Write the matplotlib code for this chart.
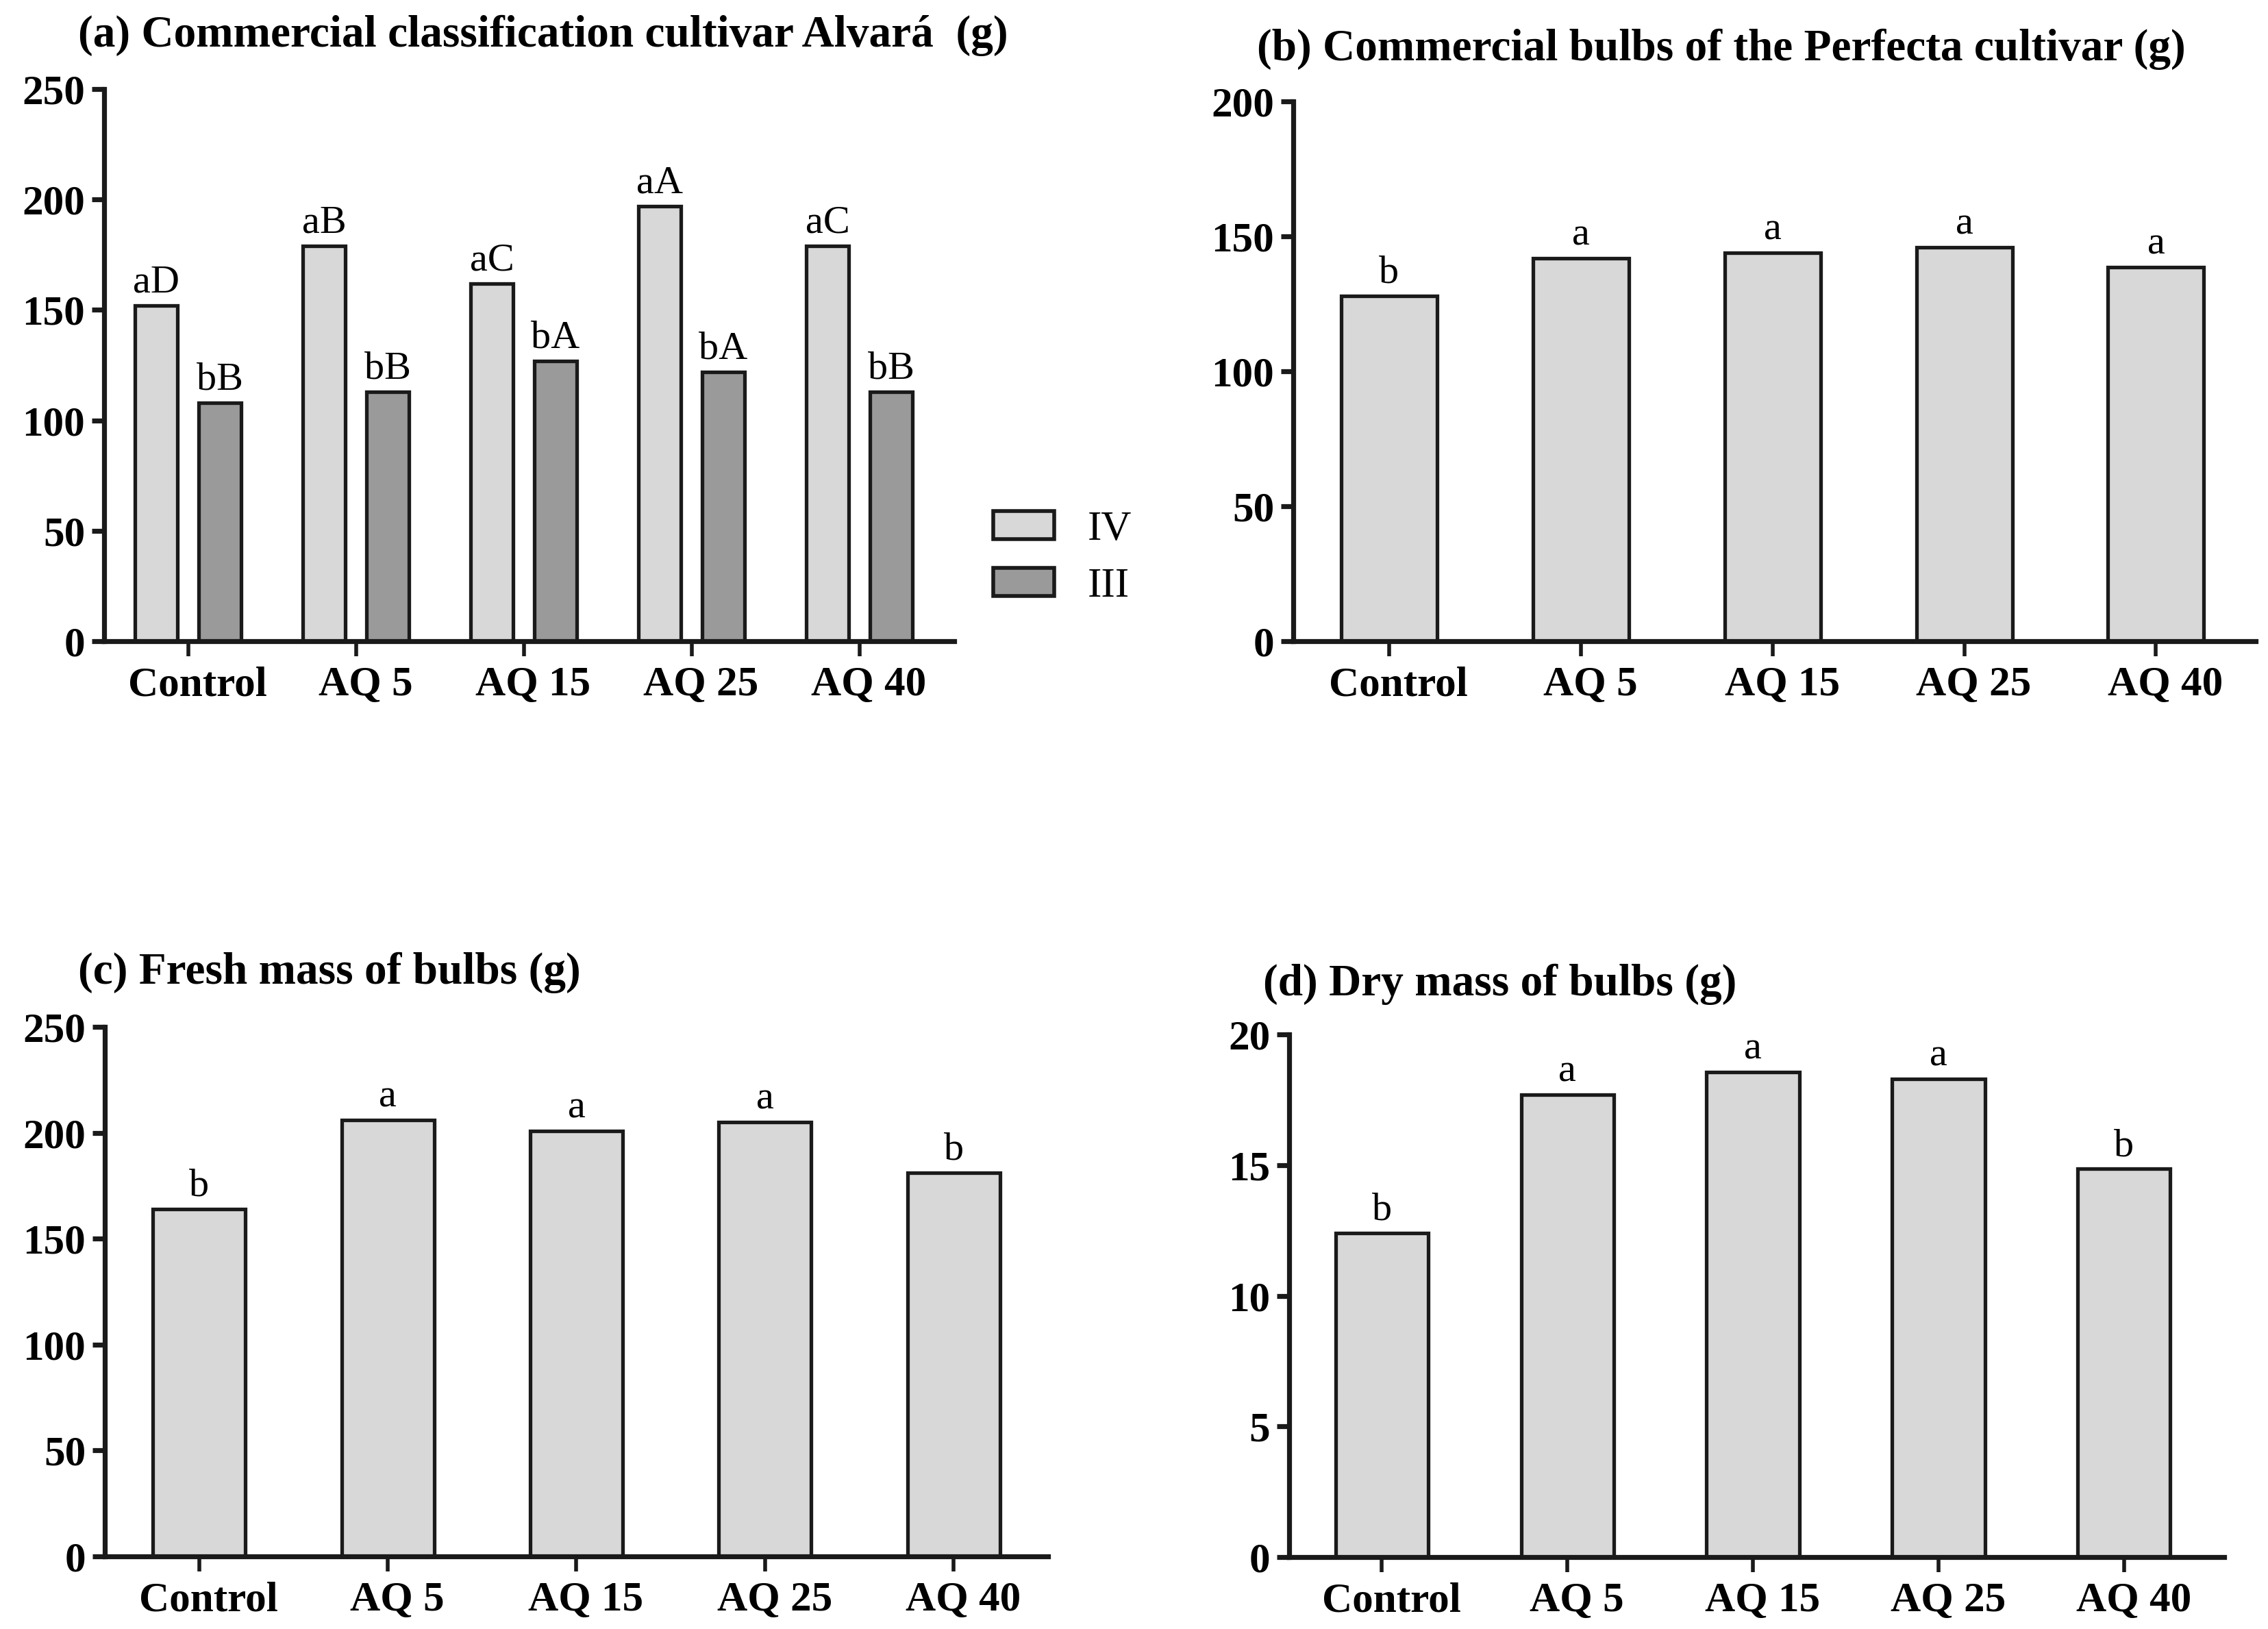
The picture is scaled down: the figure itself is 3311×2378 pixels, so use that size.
import matplotlib
matplotlib.use("Agg")
import matplotlib.pyplot as plt
import matplotlib.transforms as mtransforms
import numpy as np

plt.rcParams['font.family'] = ['Liberation Serif', 'DejaVu Serif']

# ---------------- data ----------------
categories = ["Control", "AQ 5", "AQ 15", "AQ 25", "AQ 40"]

alvara_IV = [152, 179, 162, 197, 179]
alvara_III = [108, 113, 127, 122, 113]
alvara_IV_letters = ["aD", "aB", "aC", "aA", "aC"]
alvara_III_letters = ["bB", "bB", "bA", "bA", "bB"]

perfecta = [128, 142, 144, 146, 138.5]
perfecta_letters = ["b", "a", "a", "a", "a"]

fresh_mass = [164, 206, 201, 205, 181]
fresh_letters = ["b", "a", "a", "a", "b"]

dry_mass = [12.4, 17.7, 18.55, 18.3, 14.85]
dry_letters = ["b", "a", "a", "a", "b"]

titles = ["(a) Commercial classification cultivar Alvará  (g)",
          "(b) Commercial bulbs of the Perfecta cultivar (g)",
          "(c) Fresh mass of bulbs (g)",
          "(d) Dry mass of bulbs (g)"]

# ---------------- style ----------------
LIGHT = "#d8d8d8"
DARK = "#9a9a9a"
EDGE = "#1a1a1a"
SPINE_LW = 2.6
EDGE_LW = 1.9
TICK_FS = 22
LETTER_FS = 21

W, H = 3312, 2378
DPI = 200
fig = plt.figure(figsize=(W / DPI, H / DPI), dpi=DPI)


def make_axes(l, r, b, t):
    return fig.add_axes([l / W, 1 - b / H, (r - l) / W, (b - t) / H])


def style_axes(ax, ymax, ystep, xmax):
    for s in ["top", "right"]:
        ax.spines[s].set_visible(False)
    for s in ["left", "bottom"]:
        ax.spines[s].set_linewidth(SPINE_LW)
        ax.spines[s].set_color(EDGE)
    ax.set_ylim(0, ymax)
    ax.set_xlim(-0.5, xmax)
    ax.set_yticks(np.arange(0, ymax + ystep / 2, ystep))
    ax.set_xticks(np.arange(len(categories)))
    ax.set_xticklabels(categories)
    ax.tick_params(axis="y", length=6.5, width=SPINE_LW, pad=3.5,
                   labelsize=TICK_FS, color=EDGE)
    ax.tick_params(axis="x", length=8, width=2.0, pad=5,
                   labelsize=TICK_FS, color=EDGE)
    for lab in ax.get_xticklabels() + ax.get_yticklabels():
        lab.set_fontweight("bold")
    shift = mtransforms.ScaledTranslation(5 / 72, 0, fig.dpi_scale_trans)
    for lab in ax.get_xticklabels():
        lab.set_transform(lab.get_transform() + shift)


def label_bars(ax, bars, letters):
    for rect, txt in zip(bars, letters):
        ax.annotate(txt, (rect.get_x() + rect.get_width() / 2, rect.get_height()),
                    xytext=(0, 7), textcoords="offset points",
                    ha="center", va="baseline", fontsize=LETTER_FS)


x = np.arange(len(categories))

# (a)
axa = make_axes(152, 1393, 936, 130)
ba1 = axa.bar(x - 0.19, alvara_IV, width=0.25, color=LIGHT, edgecolor=EDGE,
              linewidth=EDGE_LW, label="IV", zorder=2)
ba2 = axa.bar(x + 0.19, alvara_III, width=0.25, color=DARK, edgecolor=EDGE,
              linewidth=EDGE_LW, label="III", zorder=2)
style_axes(axa, 250, 50, 4.565)
label_bars(axa, ba1, alvara_IV_letters)
label_bars(axa, ba2, alvara_III_letters)
leg = axa.legend(loc="center left", bbox_to_anchor=(1450 / W, 1 - 815 / H),
                 bbox_transform=fig.transFigure, frameon=False, fontsize=22,
                 borderpad=0, borderaxespad=0, handlelength=1.45,
                 handleheight=0.65, handletextpad=0.8, labelspacing=0.45)
for p in leg.get_patches():
    p.set_linewidth(2.0)

# (b)
axb = make_axes(1888, 3293, 936, 148)
bb = axb.bar(x, perfecta, width=0.5, color=LIGHT, edgecolor=EDGE,
             linewidth=EDGE_LW, zorder=2)
style_axes(axb, 200, 50, 4.52)
label_bars(axb, bb, perfecta_letters)

# (c)
axc = make_axes(153, 1530, 2272, 1499)
bc = axc.bar(x, fresh_mass, width=0.49, color=LIGHT, edgecolor=EDGE,
             linewidth=EDGE_LW, zorder=2)
style_axes(axc, 250, 50, 4.5)
label_bars(axc, bc, fresh_letters)

# (d)
axd = make_axes(1882, 3247, 2273, 1510)
bd = axd.bar(x, dry_mass, width=0.5, color=LIGHT, edgecolor=EDGE,
             linewidth=EDGE_LW, zorder=2)
style_axes(axd, 20, 5, 4.54)
label_bars(axd, bd, dry_letters)

# titles
title_pos = [(114, 68), (1835, 88), (114, 1436), (1844, 1453)]
for t, (tx, ty) in zip(titles, title_pos):
    fig.text(tx / W, 1 - ty / H, t, ha="left", va="baseline",
             fontsize=23.5, fontweight="bold")

fig.savefig("out.png", dpi=DPI, facecolor="white")
